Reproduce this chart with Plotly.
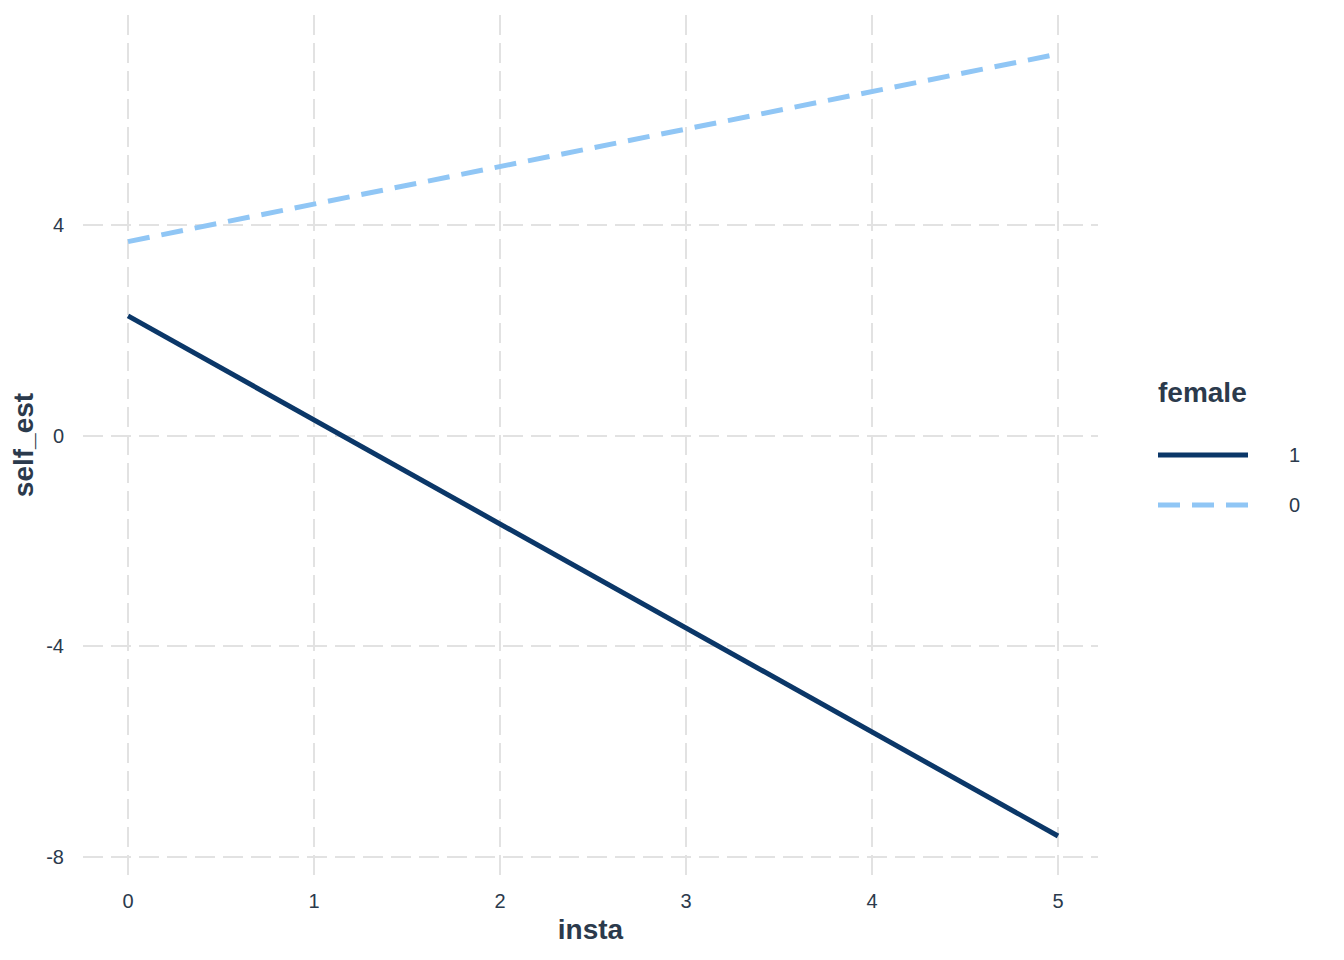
import plotly.graph_objects as go

insta = [0, 5]
female_labels = ["1", "0"]
self_est_female1 = [2.27, -7.60]
self_est_female0 = [3.68, 7.24]
x_ticks = [0, 1, 2, 3, 4, 5]
y_ticks = [-8, -4, 0, 4]

DARK = "#0B3768"
LIGHT = "#90C6F5"
TEXT = "#2B3A4C"
GRID = "#E2E2E2"
FONT = "Liberation Sans, Arial, Helvetica, sans-serif"

OFF = 8  # page body margin
W, H = 1344 - OFF, 960 - OFF
L, R, T, B = 83 - OFF, 1098 - OFF, 15 - OFF, 875 - OFF

fig = go.Figure()
fig.add_trace(go.Scatter(x=insta, y=self_est_female1, mode="lines", name="1",
                         line=dict(color=DARK, width=5), showlegend=False))
fig.add_trace(go.Scatter(x=insta, y=self_est_female0, mode="lines", name="0",
                         line=dict(color=LIGHT, width=5, dash="22px,12px"), showlegend=False))

fig.update_layout(
    width=W, height=H,
    margin=dict(l=L, r=W - R, t=T, b=H - B),
    plot_bgcolor="white", paper_bgcolor="white",
    font=dict(family=FONT, color=TEXT, size=20),
)
fig.update_xaxes(range=[-0.242, 5.215], tickvals=x_ticks, ticktext=[str(v) for v in x_ticks],
                 showgrid=True, gridcolor=GRID, gridwidth=2.2, griddash="20px,8px",
                 zeroline=False, showline=False, ticks="", ticklabelstandoff=12,
                 automargin=False, tickfont=dict(size=20),
                 title=dict(text="<b>insta</b>", font=dict(size=28, color=TEXT), standoff=8))
fig.update_yaxes(range=[-8.34, 7.98], tickvals=y_ticks, ticktext=[str(v) for v in y_ticks],
                 showgrid=True, gridcolor=GRID, gridwidth=2.2, griddash="20px,8px",
                 zeroline=False, showline=False, ticks="", ticklabelstandoff=18,
                 automargin=False, tickfont=dict(size=20),
                 title=dict(text="<b>self_est</b>", font=dict(size=28, color=TEXT), standoff=10))

def px_x(px):
    return (px - OFF - L) / (R - L)

def px_y(py):
    return (B - (py - OFF)) / (B - T)

# Legend (drawn in paper coordinates)
fig.add_annotation(x=px_x(1156), y=px_y(392), xref="paper", yref="paper", text="<b>female</b>",
                   showarrow=False, xanchor="left", yanchor="middle",
                   font=dict(size=28, color=TEXT, family=FONT))
legend_items = [(female_labels[0], DARK, "solid", 455), (female_labels[1], LIGHT, "22px,12px", 505)]
for lab, col, dash, py in legend_items:
    fig.add_shape(type="line", xref="paper", yref="paper",
                  x0=px_x(1158), x1=px_x(1248), y0=px_y(py), y1=px_y(py),
                  line=dict(color=col, width=5, dash=dash))
    fig.add_annotation(x=px_x(1287), y=px_y(py), xref="paper", yref="paper", text=lab,
                       showarrow=False, xanchor="left", yanchor="middle",
                       font=dict(size=20, color=TEXT, family=FONT))

fig.write_html("out.html")
